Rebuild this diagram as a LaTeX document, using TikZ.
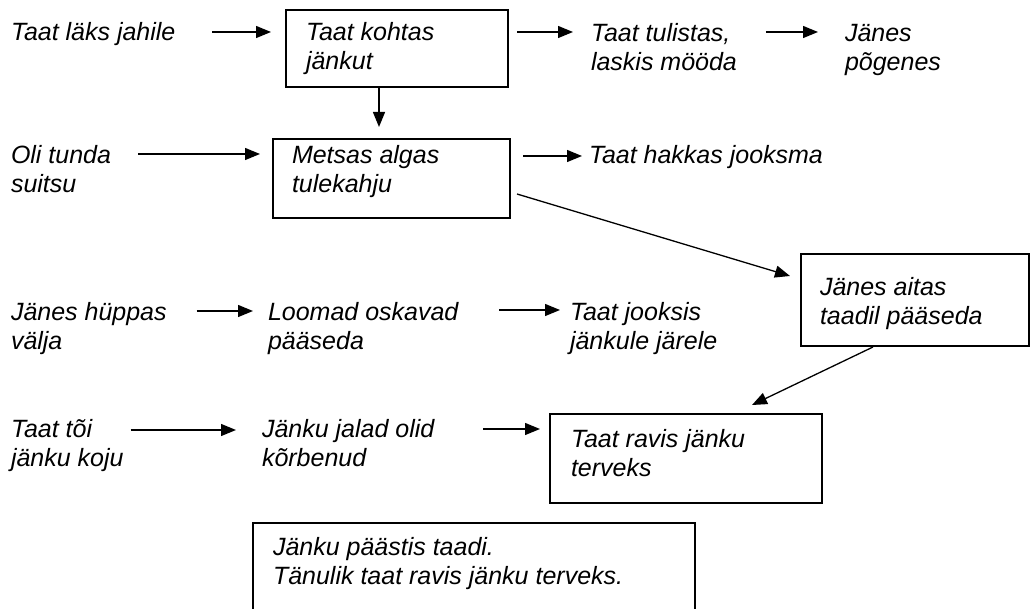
\documentclass[tikz,border=0pt]{standalone}
\usepackage{fontspec}
\setmainfont{Liberation Sans}
\usetikzlibrary{arrows.meta,calc}
% two stacked lines whose baseline is the baseline of the first one
\newcommand\stackln[2]{\vtop{\hbox{#1}\hbox{#2}}}
\begin{document}
\begin{tikzpicture}[x=1pt,y=-1pt,
  every node/.style={inner sep=0pt, outer sep=0pt},
  txt/.style={anchor=base west, font=\fontsize{25}{29}\selectfont\itshape},
  box/.style={draw, line width=1.5pt, anchor=north west},
  arr/.style={line width=1.3pt, -{Triangle[length=15pt,width=12pt]}}]
\useasboundingbox (0,0) rectangle (1034,609);
\clip (0,0) rectangle (1034,609);
\fill[white] (0,0) rectangle (1034,609);

% boxes
\node[box, minimum width=222pt, minimum height=77pt] (b1) at (286,10) {};
\node[box, minimum width=237pt, minimum height=79pt] (b2) at (273,139) {};
\node[box, minimum width=228pt, minimum height=92pt] (b3) at (801,254) {};
\node[box, minimum width=272pt, minimum height=89pt] (b4) at (550,414) {};
\node[box, minimum width=442pt, minimum height=130pt] (b5) at (253,523) {};

% texts
\node[txt] (tA) at (11,41) {Taat läks jahile};
\node[txt] (tB) at (306,41) {\stackln{Taat kohtas}{jänkut}};
\node[txt] (tC) at (591,42) {\stackln{Taat tulistas,}{laskis mööda}};
\node[txt] (tD) at (845,42) {\stackln{Jänes}{põgenes}};
\node[txt] (tE) at (11,164) {\stackln{Oli tunda}{suitsu}};
\node[txt] (tF) at (292,164) {\stackln{Metsas algas}{tulekahju}};
\node[txt] (tG) at (589,164) {Taat hakkas jooksma};
\node[txt] (tH) at (820,296) {\stackln{Jänes aitas}{taadil pääseda}};
\node[txt] (tI) at (11,321) {\stackln{Jänes hüppas}{välja}};
\node[txt] (tJ) at (268,321) {\stackln{Loomad oskavad}{pääseda}};
\node[txt] (tK) at (570,321) {\stackln{Taat jooksis}{jänkule järele}};
\node[txt] (tL) at (571,448) {\stackln{Taat ravis jänku}{terveks}};
\node[txt] (tM) at (11,438) {\stackln{Taat tõi}{jänku koju}};
\node[txt] (tN) at (262,438) {\stackln{Jänku jalad olid}{kõrbenud}};
\node[txt] (tO) at (273,555) {\stackln{Jänku päästis taadi.}{Tänulik taat ravis jänku terveks.}};

% connectors
\draw[arr] ($(tA.base east)+(37,-9)$) -- ($(b1.west |- tA.base)+(-15,-9)$);
\draw[arr] ($(b1.east |- tC.base)+(9,-10)$) -- ($(tC.base west)+(-18,-10)$);
\draw[arr] ($(tC.base east)+(29,-10)$) -- ($(tD.base west)+(-27,-10)$);
\draw[arr] ($(b1.south)+(-18,0)$) -- ($(b2.north)+(-12.5,-12)$);
\draw[arr] ($(tE.base east)+(27,-10)$) -- ($(b2.west |- tE.base)+(-13,-10)$);
\draw[arr] ($(b2.east |- tG.base)+(13,-8)$) -- ($(tG.base west)+(-7,-8)$);
\draw[arr] ($(b2.east)+(7,15.5)$) -- ($(b3.west)+(-11,-24)$);
\draw[arr] ($(tI.base east)+(30,-10)$) -- ($(tJ.base west)+(-15,-10)$);
\draw[arr] ($(tJ.base east)+(41,-11)$) -- ($(tK.base west)+(-10,-11)$);
\draw[arr] ($(b3.south)+(-42,1)$) -- ($(b4.north)+(66,-9)$);
\draw[arr] ($(tM.base east)+(7,-8)$) -- ($(tN.base west)+(-26,-8)$);
\draw[arr] ($(tN.base east)+(49,-9)$) -- ($(b4.west |- tN.base)+(-10,-9)$);
\end{tikzpicture}
\end{document}
